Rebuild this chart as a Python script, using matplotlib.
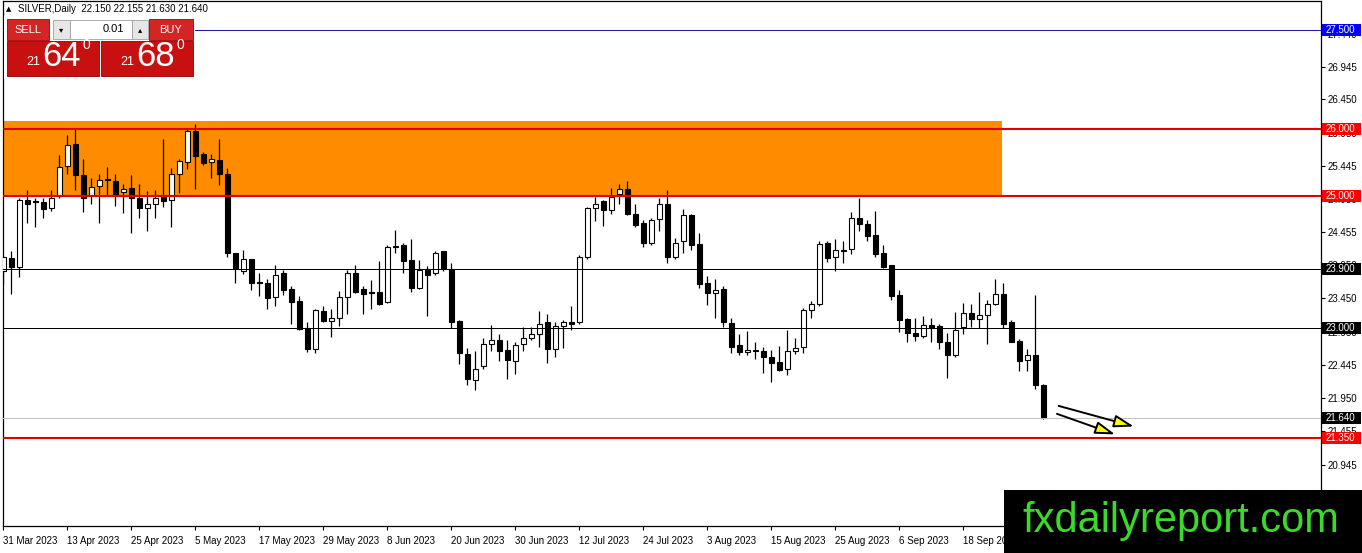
import matplotlib
matplotlib.use("Agg")
import matplotlib.pyplot as plt
import matplotlib.transforms as mtransforms
from matplotlib.patches import Rectangle, FancyArrowPatch

plt.rcParams['font.family'] = ['Liberation Sans', 'DejaVu Sans']

# ---------------- data ----------------
symbol = "SILVER,Daily"
last_ohlc = [22.150, 22.155, 21.630, 21.640]

opens = [23.86, 24.06, 23.93, 24.94, 24.92, 24.90, 24.82, 24.995, 25.45, 25.78,
         25.31, 25.01, 25.14, 25.25, 25.22, 25.05, 25.11, 24.96, 24.82, 24.88,
         25.01, 24.94, 25.32, 25.51, 25.98, 25.63, 25.50, 25.54, 25.33, 24.14,
         23.87, 24.04, 23.70, 23.69, 23.47, 23.83, 23.59, 23.41, 23.01, 22.69,
         23.26, 23.11, 23.15, 23.47, 23.83, 23.59, 23.54, 23.54, 23.39, 24.24,
         24.25, 24.03, 23.61, 23.90, 23.83, 24.16, 23.90, 23.11, 22.61, 22.22,
         22.43, 22.76, 22.82, 22.67, 22.51, 22.76, 22.86, 22.92, 23.09, 22.68,
         23.04, 23.09, 23.09, 24.07, 24.81, 24.92, 24.79, 25.02, 25.10, 24.72,
         24.58, 24.29, 24.64, 24.88, 24.08, 24.31, 24.71, 24.27, 23.68, 23.53,
         23.59, 23.075, 22.75, 22.64, 22.67, 22.66, 22.56, 22.49, 22.38, 22.65,
         22.72, 23.27, 23.37, 24.28, 24.08, 24.16, 24.19, 24.66, 24.57, 24.41,
         24.13, 23.95, 23.50, 23.14, 22.93, 22.89, 23.05, 23.03, 22.80, 22.60,
         23.02, 23.23, 23.14, 23.20, 23.37, 23.51, 23.09, 22.81, 22.52, 22.60,
         22.150]
highs = [24.11, 24.16, 24.97, 25.09, 24.97, 24.97, 25.09, 25.61, 25.91, 26.02,
         25.55, 25.26, 25.33, 25.43, 25.33, 25.18, 25.31, 25.18, 25.07, 25.09,
         25.85, 25.41, 25.55, 26.02, 26.08, 25.66, 25.63, 25.86, 25.41, 24.14,
         24.18, 24.05, 23.83, 23.74, 23.95, 23.88, 23.63, 23.49, 23.10, 23.29,
         23.34, 23.29, 23.56, 23.88, 23.96, 23.64, 23.73, 24.01, 24.25, 24.48,
         24.28, 24.35, 24.03, 23.94, 24.17, 24.17, 23.98, 23.13, 22.70, 22.66,
         22.85, 23.05, 22.92, 22.83, 22.80, 23.02, 23.02, 23.26, 23.22, 23.09,
         23.12, 23.34, 24.10, 24.83, 24.98, 24.93, 25.11, 25.17, 25.22, 24.87,
         24.63, 24.67, 24.97, 25.09, 24.36, 24.80, 24.72, 24.43, 23.79, 23.74,
         23.64, 23.16, 22.91, 22.96, 22.79, 22.72, 22.67, 22.74, 22.97, 22.85,
         23.30, 23.41, 24.32, 24.31, 24.34, 24.32, 24.75, 24.96, 24.63, 24.77,
         24.26, 23.96, 23.57, 23.15, 23.15, 23.19, 23.15, 23.06, 22.93, 23.25,
         23.38, 23.37, 23.54, 23.43, 23.74, 23.68, 23.12, 22.84, 22.69, 23.50,
         22.155]
lows = [23.65, 23.51, 23.78, 24.58, 24.52, 24.66, 24.77, 24.97, 25.33, 25.09,
        24.76, 24.87, 24.59, 24.995, 24.84, 24.74, 24.44, 24.67, 24.46, 24.67,
        24.83, 24.53, 25.04, 25.40, 25.10, 25.46, 25.26, 25.16, 24.08, 23.69,
        23.82, 23.58, 23.49, 23.29, 23.34, 23.50, 23.06, 22.97, 22.64, 22.63,
        23.09, 22.87, 23.04, 23.22, 23.53, 23.21, 23.29, 23.35, 23.38, 24.14,
        23.83, 23.55, 23.59, 23.18, 23.80, 23.86, 23.01, 22.46, 22.15, 22.07,
        22.38, 22.65, 22.51, 22.24, 22.31, 22.66, 22.83, 22.72, 22.48, 22.57,
        22.71, 22.97, 23.06, 24.04, 24.62, 24.54, 24.72, 24.88, 24.71, 24.53,
        24.22, 24.25, 24.46, 23.99, 24.05, 24.14, 24.18, 23.60, 23.35, 23.16,
        23.02, 22.62, 22.59, 22.59, 22.53, 22.32, 22.19, 22.35, 22.30, 22.61,
        22.62, 23.16, 23.33, 24.00, 23.87, 23.99, 24.12, 24.47, 24.32, 24.08,
        23.91, 23.43, 22.95, 22.80, 22.81, 22.86, 22.80, 22.69, 22.25, 22.57,
        22.91, 23.02, 23.00, 22.77, 23.35, 23.00, 22.80, 22.36, 22.36, 22.08,
        21.630]
closes = [24.07, 23.93, 24.94, 24.87, 24.90, 24.80, 24.97, 25.43, 25.76, 25.31,
          24.97, 25.13, 25.23, 25.23, 25.02, 25.10, 24.96, 24.82, 24.88, 24.97,
          24.92, 25.33, 25.52, 25.98, 25.59, 25.49, 25.55, 25.33, 24.13, 23.90,
          24.04, 23.69, 23.68, 23.45, 23.80, 23.57, 23.40, 22.99, 22.69, 23.27,
          23.11, 23.15, 23.47, 23.83, 23.55, 23.52, 23.53, 23.37, 24.22, 24.22,
          24.02, 23.61, 23.88, 23.81, 24.13, 23.89, 23.10, 22.62, 22.23, 22.38,
          22.76, 22.82, 22.65, 22.52, 22.75, 22.86, 22.92, 23.07, 22.68, 23.03,
          23.09, 23.07, 24.07, 24.81, 24.88, 24.79, 24.98, 25.10, 24.72, 24.56,
          24.29, 24.63, 24.88, 24.08, 24.28, 24.71, 24.25, 23.66, 23.53, 23.58,
          23.09, 22.72, 22.64, 22.67, 22.65, 22.56, 22.47, 22.37, 22.66, 22.71,
          23.27, 23.36, 24.27, 24.06, 24.18, 24.18, 24.66, 24.57, 24.39, 24.12,
          23.93, 23.49, 23.12, 22.93, 22.89, 23.05, 23.00, 22.80, 22.60, 22.98,
          23.23, 23.14, 23.20, 23.37, 23.51, 23.07, 22.80, 22.50, 22.60, 22.15,
          21.640]

date_labels = ["31 Mar 2023", "13 Apr 2023", "25 Apr 2023", "5 May 2023",
               "17 May 2023", "29 May 2023", "8 Jun 2023", "20 Jun 2023",
               "30 Jun 2023", "12 Jul 2023", "24 Jul 2023", "3 Aug 2023",
               "15 Aug 2023", "25 Aug 2023", "6 Sep 2023", "18 Sep 2023"]
date_bars = [0, 8, 16, 24, 32, 40, 48, 56, 64, 72, 80, 88, 96, 104, 112, 120]

axis_ticks = [27.440, 26.945, 26.450, 25.950, 25.445, 24.950, 24.455, 23.950,
              23.450, 22.950, 22.445, 21.950, 21.455, 20.945]

levels = [27.5, 26.0, 25.0, 23.9, 23.0, 21.64, 21.35]
level_line_colors = ['#1a1aa6', '#e00000', '#e00000', 'black', 'black', '#c0c0c0', '#e00000']
level_line_widths = [0.72, 1.5, 1.5, 0.72, 0.72, 0.72, 1.5]
level_box_colors = ['#0000ff', '#ff0000', '#ff0000', 'black', 'black', 'black', '#ff0000']

zone_low, zone_high = 25.0, 26.125
zone_end_bar = 124.8

arrows = [((131.9, 21.83), (141.3, 21.52)),
          ((131.7, 21.71), (138.96, 21.40))]

sell_price = ("21", "64", "0")
buy_price = ("21", "68", "0")
lot_size = "0.01"
watermark = "fxdailyreport.com"

# ---------------- figure ----------------
W, H = 1362, 553
fig = plt.figure(figsize=(W / 100, H / 100), dpi=100)
fig.patch.set_facecolor('white')

ax_left, ax_right, ax_top, ax_bottom = 3, 1321, 1, 526
ax = fig.add_axes([ax_left / W, 1 - ax_bottom / H, (ax_right - ax_left) / W, (ax_bottom - ax_top) / H])
ax.set_xlim(-0.04, 164.7)
ax.set_ylim(20.019, 27.934)
for s in ax.spines.values():
    s.set_color('black')
    s.set_linewidth(0.9)

# orange zone
ax.add_patch(Rectangle((-2, zone_low), zone_end_bar + 2, zone_high - zone_low,
                       facecolor='#ff8c00', edgecolor='none', zorder=1))

# candles
xs = list(range(len(opens)))
for i in xs:
    o, h, l, c = opens[i], highs[i], lows[i], closes[i]
    ax.vlines(i, l, h, color='black', linewidth=0.9, zorder=3)
    bottom = min(o, c)
    height = max(abs(c - o), 0.012)
    fc = 'white' if c > o else 'black'
    ax.bar(i, height, bottom=bottom, width=0.55, color=fc, edgecolor='black',
           linewidth=0.8, zorder=4)

# horizontal levels
for lv, lc, lw in zip(levels, level_line_colors, level_line_widths):
    ax.axhline(lv, color=lc, linewidth=lw, zorder=5)

# arrows
for (p0, p1) in arrows:
    arr = FancyArrowPatch(p0, p1, arrowstyle='-|>,head_length=12,head_width=3.8',
                          mutation_scale=1, facecolor='#ffff00', edgecolor='black',
                          linewidth=1.4, zorder=6, shrinkA=0, shrinkB=0)
    ax.add_patch(arr)

# right axis ticks
ax.yaxis.tick_right()
ax.set_yticks(axis_ticks)
ax.set_yticklabels([f"{v:.3f}" for v in axis_ticks])
ax.tick_params(axis='y', direction='out', length=3, width=0.8, pad=2, labelsize=7, colors='black')

# bottom axis ticks
ax.set_xticks(date_bars)
ax.set_xticklabels(date_labels)
ax.tick_params(axis='x', direction='out', length=3, width=0.8, pad=4, labelsize=7)
for lab in ax.get_xticklabels():
    lab.set_ha('left')

# level label boxes
blend = mtransforms.blended_transform_factory(ax.transAxes, ax.transData)
box_w = 39 / (ax_right - ax_left)
box_h = 12 / 66.33
for lv, bc in zip(levels, level_box_colors):
    ax.add_patch(Rectangle((1.0 + 1 / (ax_right - ax_left), lv - box_h / 2), box_w, box_h,
                           transform=blend, facecolor=bc, edgecolor='none',
                           clip_on=False, zorder=7))
    ax.text(1.0 + 5 / (ax_right - ax_left), lv, f"{lv:.3f}", transform=blend,
            color='white', fontsize=7, va='center', ha='left', clip_on=False, zorder=8)

# ---------------- overlay (pixel coords) ----------------
ov = fig.add_axes([0, 0, 1, 1], zorder=10)
ov.set_xlim(0, W)
ov.set_ylim(H, 0)
ov.axis('off')
ov.patch.set_alpha(0)

# title
ov.text(6, 9.5, "▲", fontsize=5, va='center', ha='left', color='black', family=['DejaVu Sans'])
ov.text(18, 9.5, f"{symbol}  " + " ".join(f"{v:.3f}" for v in last_ohlc),
        fontsize=7, va='center', ha='left', color='black')

# trading panel
ov.add_patch(Rectangle((4, 16), 191, 63, facecolor='white', edgecolor='none'))
ov.add_patch(Rectangle((7, 19), 42, 21, facecolor='#d42424', edgecolor='#9a0000', linewidth=0.6))
ov.text(28, 30, "SELL", color='white', fontsize=8, ha='center', va='center')
ov.add_patch(Rectangle((149, 19), 44, 21, facecolor='#d42424', edgecolor='#9a0000', linewidth=0.6))
ov.text(171, 30, "BUY", color='white', fontsize=8, ha='center', va='center')
ov.add_patch(Rectangle((53, 20), 17, 19, facecolor='#e6e6e6', edgecolor='#a0a0a0', linewidth=0.6))
ov.text(61.5, 29.5, "▾", fontsize=6, ha='center', va='center', family=['DejaVu Sans'])
ov.add_patch(Rectangle((70, 20), 62, 19, facecolor='white', edgecolor='#a0a0a0', linewidth=0.6))
ov.text(124, 29.5, lot_size, fontsize=8, ha='right', va='center')
ov.add_patch(Rectangle((132, 20), 16, 19, facecolor='#e6e6e6', edgecolor='#a0a0a0', linewidth=0.6))
ov.text(140, 29.5, "▴", fontsize=6, ha='center', va='center', family=['DejaVu Sans'])

for x0, (big_pre, big, sup) in ((7, sell_price), (101, buy_price)):
    ov.add_patch(Rectangle((x0, 41), 92, 35, facecolor='#c81010', edgecolor='#8a0000', linewidth=0.6))
    ov.text(x0 + 26.5, 62, big_pre, color='white', fontsize=9, ha='center', va='center')
    ov.text(x0 + 55, 56, big, color='white', fontsize=25, ha='center', va='center')
    ov.text(x0 + 79, 45, sup, color='white', fontsize=10, ha='center', va='center')

# watermark
ov.add_patch(Rectangle((1004, 490), W - 1004, H - 490, facecolor='black', edgecolor='none'))
ov.text(1181, 532, watermark, color='#3ad92a', fontsize=30, ha='center', va='baseline')

fig.savefig('out.png', dpi=100)
